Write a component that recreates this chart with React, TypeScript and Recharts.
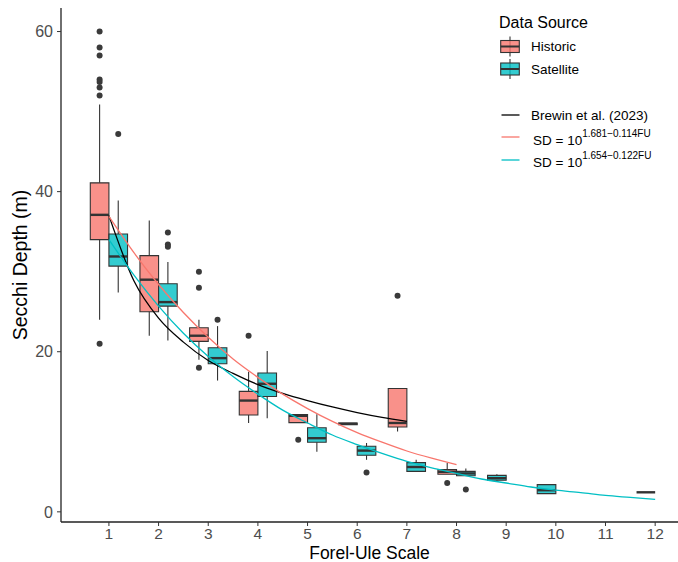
import { ComposedChart, Line, ReferenceArea, ReferenceLine, Scatter, XAxis, YAxis } from 'recharts';

const HIST = '#F8766D';
const SAT = '#00BFC4';
const INK = '#333333';
const FONT = '"Liberation Sans", Arial, sans-serif';

const fuTicks = [1, 2, 3, 4, 5, 6, 7, 8, 9, 10, 11, 12];
const depthTicks = [0, 20, 40, 60];

// historic boxes
const histFU = [1, 2, 3, 4, 5, 6, 7, 8];
const histLo = [24.0, 22.0, 19.0, 11.1, 11.15, 10.9, 10.05, 4.7];
const histQ1 = [34.0, 25.0, 21.3, 12.1, 11.15, 10.9, 10.6, 4.7];
const histMed = [37.1, 29.0, 22.0, 13.9, 12.0, 11.0, 11.1, 5.0];
const histQ3 = [41.1, 32.0, 23.0, 15.05, 12.15, 11.1, 15.4, 5.27];
const histHi = [50.9, 36.4, 24.0, 17.5, 12.15, 11.1, 15.4, 6.1];
const histOutFU = [1, 1, 1, 1, 1, 1, 1, 1, 3, 3, 3, 4, 5, 7, 8];
const histOutSD = [60, 58, 57, 54, 53.7, 53, 52, 21, 30, 28, 18, 22, 9, 27, 3.6];

// satellite boxes
const satFU = [1, 2, 3, 4, 5, 6, 7, 8, 9, 10, 12];
const satLo = [27.4, 21.4, 16.4, 11.7, 7.5, 6.5, 5.06, 4.5, 3.8, 2.27, 2.44];
const satQ1 = [30.7, 25.7, 18.5, 14.4, 8.7, 7.06, 5.06, 4.5, 3.94, 2.27, 2.44];
const satMed = [31.9, 26.2, 19.2, 16.0, 9.2, 7.65, 5.6, 4.8, 4.2, 2.7, 2.44];
const satQ3 = [34.7, 28.5, 20.5, 17.35, 10.5, 8.2, 6.15, 5.06, 4.56, 3.4, 2.44];
const satHi = [38.9, 31.2, 23.2, 20.1, 12.2, 8.6, 6.5, 5.4, 4.7, 3.4, 2.44];
const satOutFU = [1, 2, 2, 2, 3, 6, 8];
const satOutSD = [47.2, 34.9, 33.4, 33.1, 24.0, 4.9, 2.8];

// fitted curves
const brewinFU = [1, 1.5, 2, 2.5, 3, 3.5, 4, 4.5, 5, 5.5, 6, 6.5, 7];
const brewinSD = [37.0, 28.9, 24.2, 21.2, 18.9, 17.3, 15.9, 14.8, 13.9, 13.1, 12.4, 11.8, 11.3];
const histFitFU = [1, 1.5, 2, 2.5, 3, 3.5, 4, 4.5, 5, 5.5, 6, 6.5, 7, 7.5, 8];
const histFitSD = [36.9, 32.4, 28.4, 24.9, 21.8, 19.1, 16.8, 14.7, 12.9, 11.3, 9.9, 8.7, 7.6, 6.7, 5.9];
const satFitFU = [1, 1.5, 2, 2.5, 3, 3.5, 4, 4.5, 5, 5.5, 6, 6.5, 7, 7.5, 8, 8.5, 9, 9.5, 10, 10.5, 11, 11.5, 12];
const satFitSD = [34.0, 29.6, 25.7, 22.3, 19.4, 16.9, 14.7, 12.7, 11.1, 9.6, 8.4, 7.3, 6.3, 5.5, 4.8, 4.1, 3.6, 3.1, 2.7, 2.4, 2.05, 1.8, 1.55];

const BOX_W = 0.375;

type Box = { c: number; lo: number; q1: number; med: number; q3: number; hi: number; fill: string };

// historic always takes the left slot, satellite goes right unless it is alone
const histBoxes: Box[] = histFU.map((fu, i) => ({
  c: fu - BOX_W / 2, lo: histLo[i], q1: histQ1[i], med: histMed[i], q3: histQ3[i], hi: histHi[i], fill: HIST,
}));
const satBoxes: Box[] = satFU.map((fu, i) => ({
  c: fu + (histFU.includes(fu) ? 1 : -1) * BOX_W / 2,
  lo: satLo[i], q1: satQ1[i], med: satMed[i], q3: satQ3[i], hi: satHi[i], fill: SAT,
}));
const boxes = [...histBoxes, ...satBoxes];

const outliers = [
  ...histOutFU.map((fu, i) => ({ fu: fu - BOX_W / 2, sd: histOutSD[i] })),
  ...satOutFU.map((fu, i) => ({ fu: fu + (histFU.includes(fu) ? 1 : -1) * BOX_W / 2, sd: satOutSD[i] })),
];

const toRows = (xs: number[], ys: number[]) => xs.map((fu, i) => ({ fu, sd: ys[i] }));

const Dot = (p: any) => <circle cx={p.cx} cy={p.cy} r={3} fill="#3a3a3a" />;

const LegendBox = ({ y, fill }: { y: number; fill: string }) => (
  <g>
    <line x1={510} x2={510} y1={y - 10} y2={y + 10} stroke={INK} strokeWidth={1.1} />
    <rect x={500.7} y={y - 6} width={18.6} height={12} fill={fill} fillOpacity={0.8} stroke={INK} strokeWidth={1.1} />
    <line x1={500.7} x2={519.3} y1={y} y2={y} stroke={INK} strokeWidth={2} />
  </g>
);

const Legend = () => (
  <svg width={678} height={562} style={{ position: 'absolute', left: 0, top: 0, pointerEvents: 'none' }} fontFamily={FONT}>
    <text x={499} y={22} fontSize={16} dominantBaseline="central" fill="#000">Data Source</text>
    <LegendBox y={46.5} fill={HIST} />
    <text x={531} y={46.5} fontSize={13.5} dominantBaseline="central" fill="#000">Historic</text>
    <LegendBox y={69} fill={SAT} />
    <text x={531} y={69} fontSize={13.5} dominantBaseline="central" fill="#000">Satellite</text>
    <line x1={501.5} x2={519.5} y1={115} y2={115} stroke="#000" strokeWidth={1.3} />
    <text x={531} y={115} fontSize={13.5} dominantBaseline="central" fill="#000">Brewin et al. (2023)</text>
    <line x1={501.5} x2={519.5} y1={137} y2={137} stroke={HIST} strokeWidth={1.3} />
    <text x={533} y={140} fontSize={13.5} dominantBaseline="central" fill="#000">
      SD = 10<tspan fontSize={10} dy={-7}>1.681−0.114FU</tspan>
    </text>
    <line x1={501.5} x2={519.5} y1={160} y2={160} stroke={SAT} strokeWidth={1.3} />
    <text x={533} y={162} fontSize={13.5} dominantBaseline="central" fill="#000">
      SD = 10<tspan fontSize={10} dy={-7}>1.654−0.122FU</tspan>
    </text>
  </svg>
);

export default function App() {
  return (
    <div style={{ position: 'absolute', left: 0, top: 0, width: 678, height: 562, fontFamily: FONT, background: '#fff' }}>
      <ComposedChart width={678} height={562} margin={{ top: 8, right: 0, bottom: 0, left: 0 }}>
        <XAxis
          type="number"
          dataKey="fu"
          domain={[0.035, 12.46]}
          ticks={fuTicks}
          interval={0}
          allowDataOverflow
          height={40}
          tickSize={4}
          tickMargin={2}
          tick={{ fill: '#4D4D4D', fontSize: 15.5 }}
          tickLine={{ stroke: INK }}
          axisLine={{ stroke: '#222', strokeWidth: 1.3 }}
          label={{ value: 'Forel-Ule Scale', position: 'insideBottom', offset: 3.5, fill: '#000', fontSize: 17.5 }}
        />
        <YAxis
          type="number"
          dataKey="sd"
          domain={[-1.27, 62.94]}
          ticks={depthTicks}
          interval={0}
          allowDataOverflow
          width={61}
          tickSize={4}
          tickMargin={4}
          tick={{ fill: '#4D4D4D', fontSize: 16 }}
          tickLine={{ stroke: INK }}
          axisLine={{ stroke: '#222', strokeWidth: 1.3 }}
          label={{ value: 'Secchi Depth (m)', angle: -90, position: 'insideLeft', offset: 20, fill: '#000', fontSize: 19.5, style: { textAnchor: 'middle' } }}
        />
        {boxes.map((b, i) => (
          <ReferenceLine key={`hi${i}`} segment={[{ x: b.c, y: b.q3 }, { x: b.c, y: b.hi }]} stroke={INK} strokeWidth={1.1} />
        ))}
        {boxes.map((b, i) => (
          <ReferenceLine key={`lo${i}`} segment={[{ x: b.c, y: b.lo }, { x: b.c, y: b.q1 }]} stroke={INK} strokeWidth={1.1} />
        ))}
        {boxes.map((b, i) => (
          <ReferenceArea
            key={`box${i}`}
            x1={b.c - BOX_W / 2}
            x2={b.c + BOX_W / 2}
            y1={b.q1}
            y2={b.q3}
            fill={b.fill}
            fillOpacity={0.8}
            stroke={INK}
            strokeWidth={1.1}
          />
        ))}
        {boxes.map((b, i) => (
          <ReferenceLine
            key={`med${i}`}
            segment={[{ x: b.c - BOX_W / 2, y: b.med }, { x: b.c + BOX_W / 2, y: b.med }]}
            stroke={INK}
            strokeWidth={2.4}
          />
        ))}
        <Scatter data={outliers} shape={Dot} isAnimationActive={false} />
        <Line data={toRows(brewinFU, brewinSD)} dataKey="sd" type="monotone" stroke="#000" strokeWidth={1.3} dot={false} isAnimationActive={false} />
        <Line data={toRows(histFitFU, histFitSD)} dataKey="sd" type="monotone" stroke={HIST} strokeWidth={1.3} dot={false} isAnimationActive={false} />
        <Line data={toRows(satFitFU, satFitSD)} dataKey="sd" type="monotone" stroke={SAT} strokeWidth={1.3} dot={false} isAnimationActive={false} />
      </ComposedChart>
      <Legend />
    </div>
  );
}
